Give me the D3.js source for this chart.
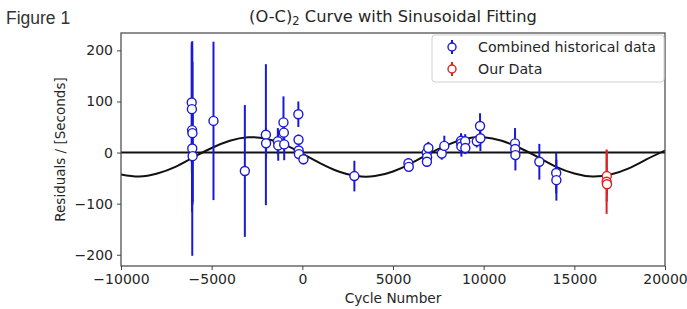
<!DOCTYPE html>
<html>
<head>
<meta charset="utf-8">
<script src="https://cdn.jsdelivr.net/npm/d3@7"></script>
<style>
  body { margin: 0; background: #fff; }
  text { font-family: "DejaVu Sans", sans-serif; fill: #262626; }
</style>
</head>
<body>
<svg id="chart" width="687" height="309"></svg>
<script>
// historical O-C residuals: cycle, residual (s), error (s)
const histCycle = [-6100, -6090, -6080, -6060, -6070, -6050, -4900, -3170, -2010, -2000,
  -1350, -1330, -1040, -1020, -1000, -220, -210, -200, -190, 60,
  2870, 5850, 5870, 6860, 6880, 6870, 6950, 7690, 7830, 8750,
  8760, 8770, 8980, 8990, 9620, 9800, 9820, 11730, 11740, 11750,
  13070, 14000, 14010];
const histResid = [98, 85, 44, 38, 8, -7, 62, -36, 35, 18,
  22, 14, 59, 39, 16, 75, 25, 4, -3, -13,
  -46, -21, -28, 0, -9, -18, 9, -2, 13, 23,
  18, 12, 22, 9, 22, 52, 28, 18, 7, -5,
  -18, -40, -54];
const histErr = [118, 125, 160, 140, 210, 90, 155, 129, 138, 30,
  26, 30, 51, 25, 31, 25, 10, 10, 10, 10,
  30, 10, 10, 18, 15, 10, 12, 12, 20, 15,
  18, 20, 14, 12, 12, 25, 25, 30, 20, 30,
  35, 40, 40];

// our new timings
const ourCycle = [16790, 16780, 16800];
const ourResid = [-46, -57, -62];
const ourErr = [50, 63, 20];

// sinusoidal fit
const fitCycle = d3.range(-10000, 20001, 1000);
const fitResid = [-43, -47, -41, -28, -9, 9, 23, 30, 27, 16,
  -2, -21, -37, -46, -46, -37, -21, -2, 15, 27,
  30, 23, 9, -9, -28, -41, -47, -43, -31, -13, 4];

const xTicks = [-10000, -5000, 0, 5000, 10000, 15000, 20000];
const yTicks = [-200, -100, 0, 100, 200];

const svg = d3.select("#chart");
const frame = { left: 121, right: 665, top: 33, bottom: 266 };

const x = d3.scaleLinear().domain([-10000, 20000]).range([frame.left, frame.right]);
const y = d3.scaleLinear().domain([-222, 234]).range([frame.bottom, frame.top]);

// "Figure 1" caption
svg.append("text")
  .attr("x", 6).attr("y", 24)
  .style("font-family", "'Liberation Sans', Arial, sans-serif")
  .style("font-size", "17.5px")
  .style("fill", "#333")
  .text("Figure 1");

// title
const title = svg.append("text")
  .attr("x", (frame.left + frame.right) / 2).attr("y", 22)
  .attr("text-anchor", "middle")
  .style("font-size", "16.3px");
title.append("tspan").text("(O-C)");
title.append("tspan").attr("dy", 3).style("font-size", "11.5px").text("2");
title.append("tspan").attr("dy", -3).text(" Curve with Sinusoidal Fitting");

// plot area clip
svg.append("clipPath").attr("id", "clip")
  .append("rect")
  .attr("x", frame.left).attr("y", frame.top)
  .attr("width", frame.right - frame.left).attr("height", frame.bottom - frame.top);

const plot = svg.append("g").attr("clip-path", "url(#clip)");

// zero line
plot.append("line")
  .attr("x1", frame.left).attr("x2", frame.right)
  .attr("y1", y(0)).attr("y2", y(0))
  .attr("stroke", "#111").attr("stroke-width", 2);

// fit curve
const line = d3.line()
  .x((d, i) => x(fitCycle[i]))
  .y(d => y(d))
  .curve(d3.curveNatural);

plot.append("path")
  .datum(fitResid)
  .attr("d", line)
  .attr("fill", "none")
  .attr("stroke", "#111")
  .attr("stroke-width", 2);

// error bars + markers
function drawSeries(cycles, resid, err, color) {
  const g = plot.append("g");
  const pts = cycles.map((c, i) => ({ c: c, r: resid[i], e: err[i] }));
  g.selectAll("line.err")
    .data(pts)
    .join("line")
    .attr("class", "err")
    .attr("x1", d => x(d.c)).attr("x2", d => x(d.c))
    .attr("y1", d => y(d.r - d.e)).attr("y2", d => y(d.r + d.e))
    .attr("stroke", color).attr("stroke-width", 2);
  g.selectAll("circle")
    .data(pts)
    .join("circle")
    .attr("cx", d => x(d.c)).attr("cy", d => y(d.r))
    .attr("r", 4.5)
    .attr("fill", "#fff")
    .attr("stroke", color).attr("stroke-width", 1.4);
}

drawSeries(histCycle, histResid, histErr, "#1a1ad6");
drawSeries(ourCycle, ourResid, ourErr, "#e02020");

// frame
svg.append("rect")
  .attr("x", frame.left).attr("y", frame.top)
  .attr("width", frame.right - frame.left).attr("height", frame.bottom - frame.top)
  .attr("fill", "none").attr("stroke", "#444").attr("stroke-width", 1.2);

// axes
const xAxis = svg.append("g")
  .attr("transform", `translate(0,${frame.bottom})`)
  .call(d3.axisBottom(x).tickValues(xTicks).tickSize(4).tickPadding(4)
    .tickFormat(d => d < 0 ? "\u2212" + Math.abs(d) : d));
const yAxis = svg.append("g")
  .attr("transform", `translate(${frame.left},0)`)
  .call(d3.axisLeft(y).tickValues(yTicks).tickSize(4).tickPadding(4)
    .tickFormat(d => d < 0 ? "\u2212" + Math.abs(d) : d));

[xAxis, yAxis].forEach(a => {
  a.select(".domain").remove();
  a.selectAll(".tick line").attr("stroke", "#444");
  a.selectAll(".tick text")
    .style("font-family", "'DejaVu Sans', sans-serif")
    .style("font-size", "14px")
    .attr("fill", "#262626");
});

// axis labels
svg.append("text")
  .attr("x", (frame.left + frame.right) / 2).attr("y", 303)
  .attr("text-anchor", "middle")
  .style("font-size", "13.7px")
  .text("Cycle Number");

svg.append("text")
  .attr("transform", `translate(65,${(frame.top + frame.bottom) / 2}) rotate(-90)`)
  .attr("text-anchor", "middle")
  .style("font-size", "13.5px")
  .text("Residuals / [Seconds]");

// legend
const legend = svg.append("g").attr("transform", "translate(432,35)");
legend.append("rect")
  .attr("width", 232).attr("height", 47).attr("rx", 3)
  .attr("fill", "#fff").attr("fill-opacity", 0.85)
  .attr("stroke", "#d0d0d0");

const legendItems = [
  { label: "Combined historical data", color: "#1a1ad6" },
  { label: "Our Data", color: "#e02020" }
];
legendItems.forEach((item, i) => {
  const row = legend.append("g").attr("transform", `translate(20,${12 + i * 22})`);
  row.append("line")
    .attr("y1", -7).attr("y2", 7)
    .attr("stroke", item.color).attr("stroke-width", 2);
  row.append("circle")
    .attr("r", 4).attr("fill", "#fff")
    .attr("stroke", item.color).attr("stroke-width", 1.4);
  row.append("text")
    .attr("x", 26).attr("y", 5)
    .style("font-size", "14.2px")
    .text(item.label);
});
</script>
</body>
</html>
